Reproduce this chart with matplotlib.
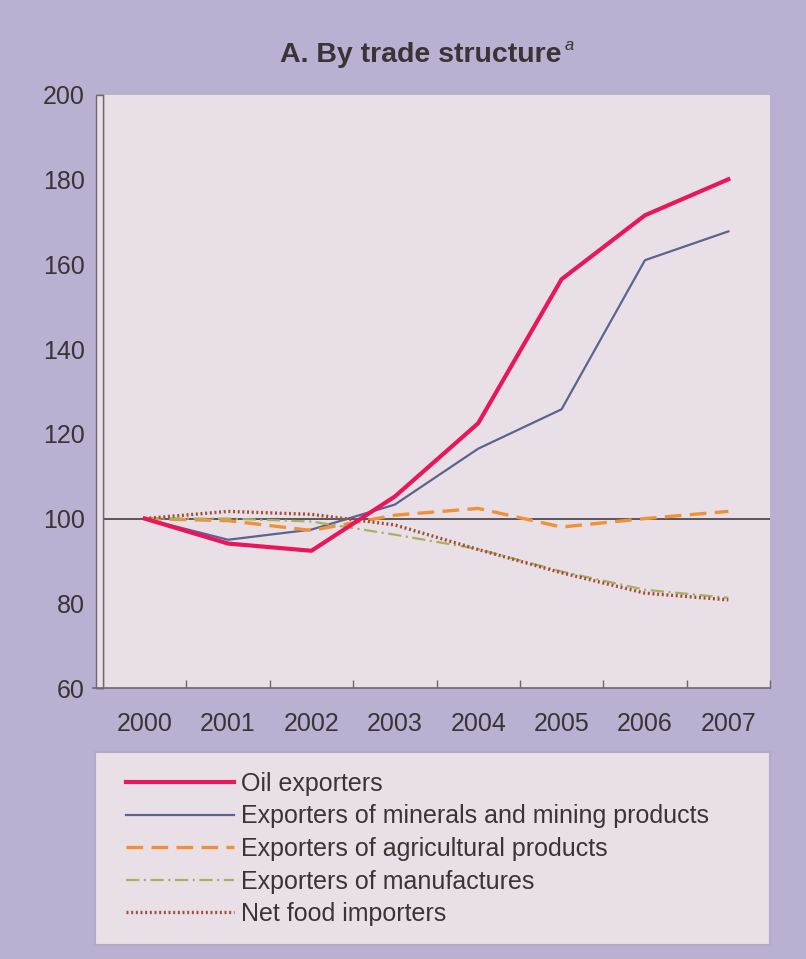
import matplotlib
matplotlib.use("Agg")
import matplotlib.pyplot as plt
from matplotlib.patches import Rectangle
from matplotlib.lines import Line2D

plt.rcParams['font.family'] = ['Liberation Sans', 'DejaVu Sans']

years = ['2000', '2001', '2002', '2003', '2004', '2005', '2006', '2007']
oil = [100, 94.1, 92.4, 105.2, 122.5, 156.5, 171.6, 180.1]
minerals = [100, 95.0, 97.4, 103.3, 116.5, 125.8, 161.0, 167.8]
agri = [100, 99.5, 97.2, 100.8, 102.4, 98.0, 100.0, 101.7]
manuf = [100, 100.0, 99.3, 96.2, 92.8, 87.5, 83.2, 81.3]
netfood = [100, 101.7, 101.0, 98.5, 92.7, 87.2, 82.4, 80.8]
labels = ['Oil exporters', 'Exporters of minerals and mining products',
          'Exporters of agricultural products', 'Exporters of manufactures',
          'Net food importers']

W, H = 806, 959
BG = '#bab0d2'
PLOT = '#e8e0e6'
TXT = '#3a3436'
FS = 18

fig = plt.figure(figsize=(W / 100, H / 100), dpi=100, facecolor=BG)

def fx(px):
    return px / W

def fy(py):
    return 1 - py / H

ax = fig.add_axes([fx(103), fy(688), fx(770) - fx(103), fy(95) - fy(688)])
ax.set_facecolor(PLOT)

x = list(range(len(years)))
ax.axhline(100, color='#5a5558', lw=1.4, zorder=1)
ax.plot(x, minerals, color='#5d6391', lw=1.6, zorder=3, label=labels[1])
ax.plot(x, agri, color='#f0913a', lw=2.4, ls=(0, (5, 2.5)), zorder=3, label=labels[2])
ax.plot(x, manuf, color='#a9b064', lw=1.6, ls=(0, (6, 2, 1, 2)), zorder=3, label=labels[3])
ax.plot(x, netfood, color='#a34e3a', lw=2.4, ls=(0, (0.6, 0.8)), zorder=3, label=labels[4])
ax.plot(x, oil, color='#e8175b', lw=3.0, zorder=4, label=labels[0])

ax.set_xlim(-0.5, len(years) - 0.5)
ax.set_ylim(60, 200)
ax.set_yticks(range(60, 201, 20))
ax.set_xticks(x)
ax.set_xticklabels(years)
ax.set_xticks([i + 0.5 for i in range(len(years))], minor=True)
ax.tick_params(axis='x', which='major', length=0, pad=17, labelsize=FS, labelcolor=TXT)
ax.tick_params(axis='x', which='minor', direction='in', length=6, width=1, color='#6e686c')
ax.tick_params(axis='y', direction='out', length=5, width=1, color='#6e686c',
               pad=8, labelsize=FS, labelcolor=TXT)

for s in ['top', 'right']:
    ax.spines[s].set_visible(False)
ax.spines['left'].set_color('#6e686c')
ax.spines['bottom'].set_color('#6e686c')
ax.spines['left'].set_linewidth(1)
ax.spines['bottom'].set_linewidth(1.2)

# left axis strip
fig.patches.append(Rectangle((fx(96), fy(688)), fx(103) - fx(96), fy(95) - fy(688),
                             transform=fig.transFigure, facecolor=PLOT,
                             edgecolor='#6e686c', lw=1, zorder=0))
fig.lines.append(Line2D([fx(93), fx(103)], [fy(688), fy(688)], transform=fig.transFigure,
                        color='#6e686c', lw=1.2))

# title
fig.text(fx(561), fy(55), 'A. By trade structure', ha='right', va='center',
         fontsize=20.5, fontweight='bold', color=TXT)
fig.text(fx(565), fy(45), 'a', ha='left', va='center', fontsize=12,
         fontstyle='italic', color=TXT)

# legend box
fig.patches.append(Rectangle((fx(95), fy(945)), fx(770) - fx(95), fy(752) - fy(945),
                             transform=fig.transFigure, facecolor=PLOT,
                             edgecolor='#b3a9c8', lw=1.5, zorder=0))
handles, lbls = ax.get_legend_handles_labels()
order = [4, 0, 1, 2, 3]
leg = fig.legend([handles[i] for i in order], [lbls[i] for i in order],
                 loc='upper left', bbox_to_anchor=(fx(126), fy(772)),
                 frameon=False, fontsize=FS, handlelength=4.3,
                 handletextpad=0.3, labelspacing=0.34, borderaxespad=0,
                 borderpad=0)
for t in leg.get_texts():
    t.set_color(TXT)

fig.savefig('out.png', dpi=100, facecolor=BG)
